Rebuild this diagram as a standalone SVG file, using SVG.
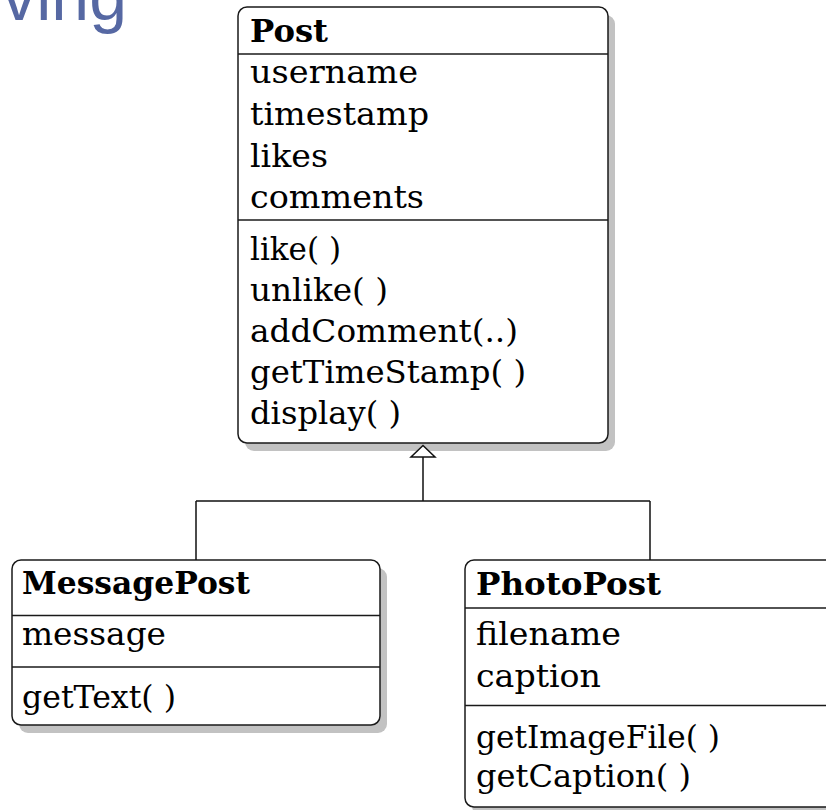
<svg xmlns="http://www.w3.org/2000/svg" width="826" height="810" viewBox="0 0 826 810">
  <style>
    .shadow { fill: #c2c2c2; }
    .box { fill: #ffffff; stroke: #1a1a1a; stroke-width: 1.5; }
    .sep { stroke: #1a1a1a; stroke-width: 1.5; }
    .name { font-family: "DejaVu Serif", "Liberation Serif", serif; font-weight: bold; font-size: 31px; fill: #000; }
    .member { font-family: "DejaVu Serif", "Liberation Serif", serif; font-size: 32px; fill: #000; }
    .link { fill: none; stroke: #111; stroke-width: 1.5; }
    .head { fill: #ffffff; stroke: #111; stroke-width: 1.5; }
    .title { font-family: "Liberation Sans", Arial, sans-serif; font-size: 68px; fill: #5668a3; }
  </style>

  <rect width="826" height="810" fill="#ffffff"/>

  <!-- slide heading, partly outside the frame -->
  <text class="title" x="127" y="20" text-anchor="end">ving</text>

  <!-- superclass -->
  <g id="post">
    <rect class="shadow" x="245" y="15" width="370" height="436" rx="9"/>
    <rect class="box" x="238" y="7" width="370" height="436" rx="9"/>
    <line class="sep" x1="238" y1="54" x2="608" y2="54"/>
    <line class="sep" x1="238" y1="220" x2="608" y2="220"/>
    <text class="name" x="250" y="42" textLength="78" lengthAdjust="spacingAndGlyphs">Post</text>
    <text class="member" x="250" y="83" textLength="168" lengthAdjust="spacingAndGlyphs">username</text>
    <text class="member" x="250" y="125" textLength="179" lengthAdjust="spacingAndGlyphs">timestamp</text>
    <text class="member" x="250" y="166.5" textLength="78" lengthAdjust="spacingAndGlyphs">likes</text>
    <text class="member" x="250" y="208" textLength="174" lengthAdjust="spacingAndGlyphs">comments</text>
    <text class="member" x="250" y="260" textLength="91" lengthAdjust="spacingAndGlyphs">like( )</text>
    <text class="member" x="250" y="301" textLength="138" lengthAdjust="spacingAndGlyphs">unlike( )</text>
    <text class="member" x="250" y="342" textLength="268" lengthAdjust="spacingAndGlyphs">addComment(..)</text>
    <text class="member" x="250" y="383" textLength="276" lengthAdjust="spacingAndGlyphs">getTimeStamp( )</text>
    <text class="member" x="250" y="424" textLength="151" lengthAdjust="spacingAndGlyphs">display( )</text>
  </g>

  <!-- subclass: text message -->
  <g id="message-post">
    <rect class="shadow" x="19" y="568" width="368" height="165" rx="9"/>
    <rect class="box" x="12" y="560" width="368" height="165" rx="9"/>
    <line class="sep" x1="12" y1="615.5" x2="380" y2="615.5"/>
    <line class="sep" x1="12" y1="667" x2="380" y2="667"/>
    <text class="name" x="22" y="593.5" textLength="228" lengthAdjust="spacingAndGlyphs">MessagePost</text>
    <text class="member" x="22" y="644.5" textLength="144" lengthAdjust="spacingAndGlyphs">message</text>
    <text class="member" x="22" y="708" textLength="154" lengthAdjust="spacingAndGlyphs">getText( )</text>
  </g>

  <!-- subclass: photo -->
  <g id="photo-post">
    <rect class="shadow" x="472" y="568" width="400" height="247" rx="9"/>
    <rect class="box" x="465" y="560" width="400" height="247" rx="9"/>
    <line class="sep" x1="465" y1="608" x2="865" y2="608"/>
    <line class="sep" x1="465" y1="705.5" x2="865" y2="705.5"/>
    <text class="name" x="476" y="595" textLength="185" lengthAdjust="spacingAndGlyphs">PhotoPost</text>
    <text class="member" x="476" y="645" textLength="145" lengthAdjust="spacingAndGlyphs">filename</text>
    <text class="member" x="476" y="687" textLength="125" lengthAdjust="spacingAndGlyphs">caption</text>
    <text class="member" x="476" y="748" textLength="244" lengthAdjust="spacingAndGlyphs">getImageFile( )</text>
    <text class="member" x="476" y="787" textLength="215" lengthAdjust="spacingAndGlyphs">getCaption( )</text>
  </g>

  <!-- generalization tree -->
  <g id="connectors">
    <path class="link" d="M423,457 V501 M196,501 H650 M196,501 V560 M650,501 V560"/>
    <polygon class="head" points="423,445.5 411,457 435,457"/>
  </g>
</svg>
